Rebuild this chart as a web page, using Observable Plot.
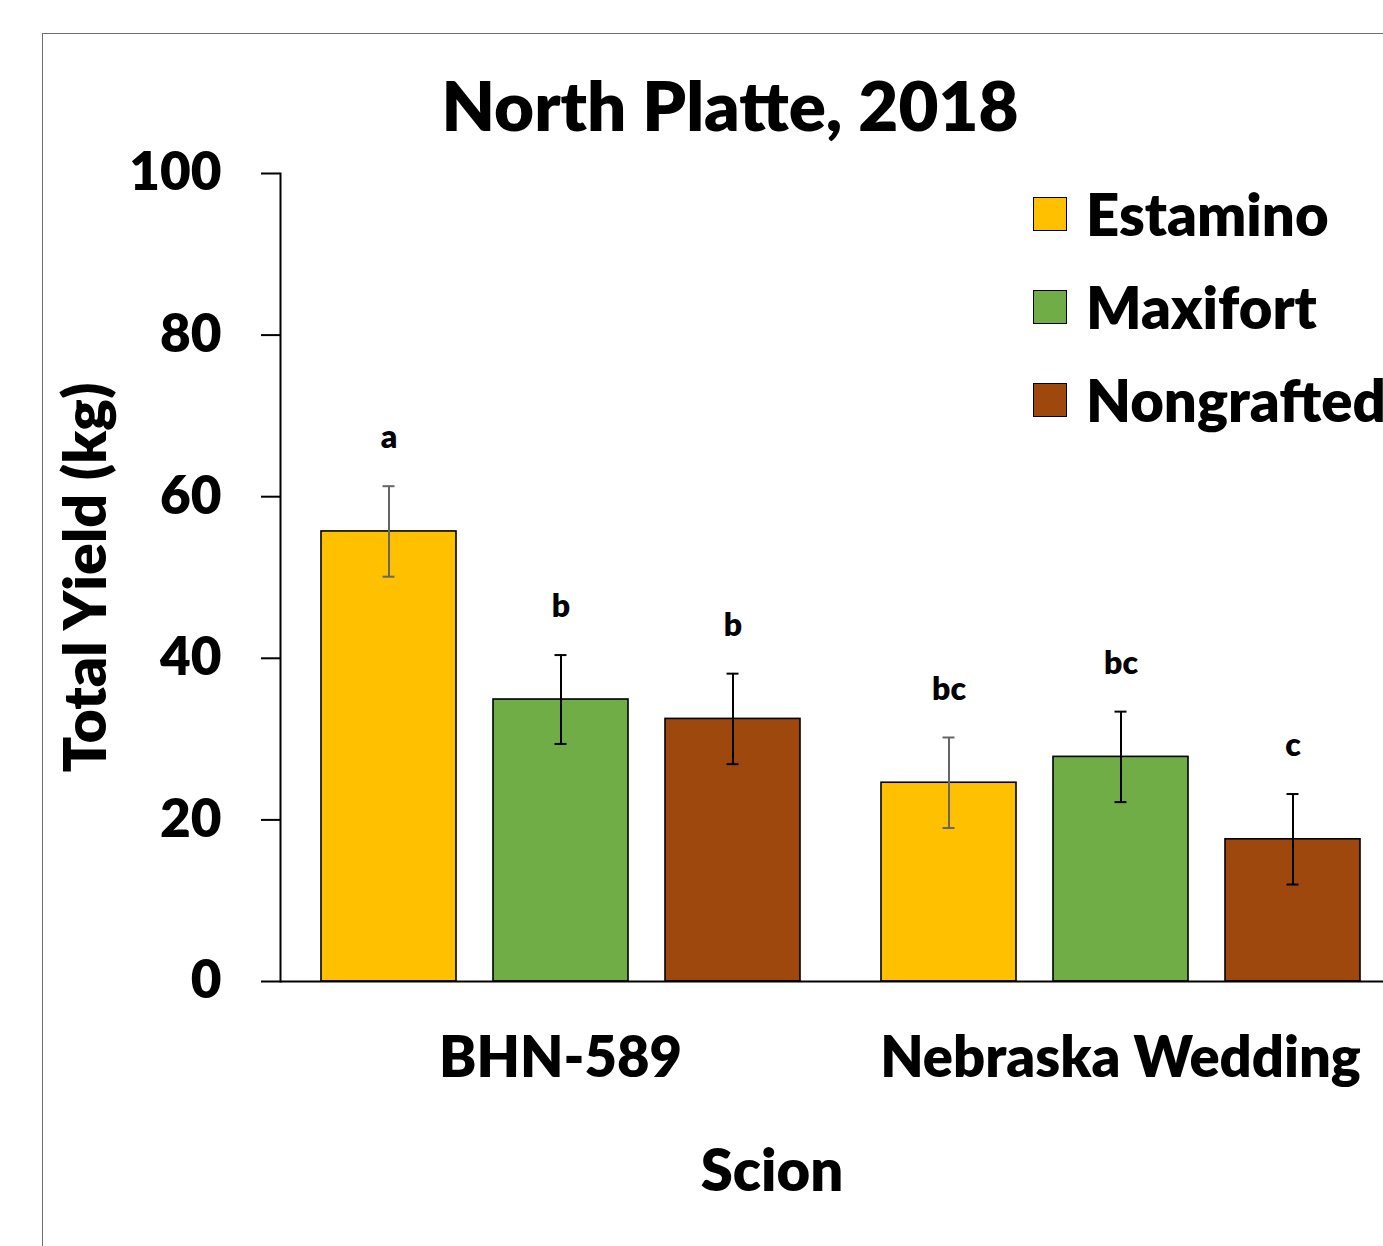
<!DOCTYPE html>
<html>
<head>
<meta charset="utf-8">
<script src="https://cdn.jsdelivr.net/npm/d3@7"></script>
<script src="https://cdn.jsdelivr.net/npm/@observablehq/plot@0.6"></script>
<style>
  html, body { margin: 0; padding: 0; background: #fff; overflow: hidden; }
  #wrap { position: relative; width: 1383px; height: 1246px; overflow: hidden; font-family: Lato, sans-serif; font-weight: 800; color: #000; }
  #border { position: absolute; left: 42px; top: 33px; width: 2000px; height: 2000px; border-left: 1.5px solid #6e6e6e; border-top: 1.5px solid #6e6e6e; }
  #chart { position: absolute; left: 0; top: 0; width: 1400px; }
  #chart svg { max-width: none !important; }
  #title { position: absolute; left: 230px; width: 1000px; top: 63px; text-align: center; font-size: 69px; line-height: 84px; }
  #xlabel { position: absolute; left: 572px; width: 400px; top: 1134px; text-align: center; font-size: 58px; line-height: 70px; }
  .leg { position: absolute; left: 1033px; height: 40px; display: flex; align-items: center; }
  .sw { width: 32px; height: 32px; border: 1.5px solid #000; margin-right: 19px; flex: none; }
  .lt { font-size: 58px; line-height: 40px; white-space: nowrap; }
</style>
</head>
<body>
<div id="wrap">
  <div id="border"></div>
  <div id="chart"></div>
  <div id="title"></div>
  <div id="legend"></div>
  <div id="xlabel"></div>
</div>
<script>
const titleText = "North Platte, 2018";
const xLabel = "Scion";
const yLabel = "Total Yield (kg)";
const scions = ["BHN-589", "Nebraska Wedding"];
const rootstocks = ["Estamino", "Maxifort", "Nongrafted"];
const colors = ["#FFC000", "#70AD47", "#9E480E"];
const yieldBHN = [55.7, 34.9, 32.5];
const yieldNW = [24.6, 27.8, 17.6];
const seBHN = [5.6, 5.5, 5.6];
const seNW = [5.6, 5.6, 5.6];
const lettersBHN = ["a", "b", "b"];
const lettersNW = ["bc", "bc", "c"];
const yTicks = [0, 20, 40, 60, 80, 100];

const series = [
  {scion: scions[0], values: yieldBHN, se: seBHN, letters: lettersBHN},
  {scion: scions[1], values: yieldNW, se: seNW, letters: lettersNW}
];
const data = series.flatMap(s => rootstocks.map((r, i) => ({
  scion: s.scion, rootstock: r, value: s.values[i], se: s.se[i], letter: s.letters[i]
})));
const hi = d => d.value + d.se;
const lo = d => d.value - d.se;
const isEst = d => d.rootstock === "Estamino";
const notEst = d => d.rootstock !== "Estamino";

document.getElementById("title").textContent = titleText;
document.getElementById("xlabel").textContent = xLabel;

const legend = document.getElementById("legend");
const legendTops = [194, 287, 380];
rootstocks.forEach((r, i) => {
  const item = document.createElement("div");
  item.className = "leg";
  item.style.top = legendTops[i] + "px";
  const sw = document.createElement("div");
  sw.className = "sw";
  sw.style.background = colors[i];
  const t = document.createElement("div");
  t.className = "lt";
  t.textContent = r;
  item.append(sw, t);
  legend.append(item);
});

const chart = Plot.plot({
  width: 1400,
  height: 1246,
  marginLeft: 279,
  marginRight: 0,
  marginTop: 173,
  marginBottom: 265,
  style: {fontFamily: "Lato, sans-serif", fontWeight: "800", color: "#000", background: "transparent", overflow: "visible", maxWidth: "none"},
  fx: {domain: scions, padding: 0, label: null},
  x: {domain: rootstocks, paddingInner: 0.217, paddingOuter: 0.2315, axis: null},
  y: {domain: [0, 100], label: yLabel},
  color: {domain: rootstocks, range: colors},
  marks: [
    Plot.barY(data, {fx: "scion", x: "rootstock", y: "value", fill: "rootstock", stroke: "#000", strokeWidth: 1.6}),
    Plot.ruleX(data, {filter: isEst, fx: "scion", x: "rootstock", y1: lo, y2: hi, stroke: "#666", strokeWidth: 2}),
    Plot.tickY(data, {filter: isEst, fx: "scion", x: "rootstock", y: hi, stroke: "#666", strokeWidth: 2, insetLeft: 61.5, insetRight: 61.5}),
    Plot.tickY(data, {filter: isEst, fx: "scion", x: "rootstock", y: lo, stroke: "#666", strokeWidth: 2, insetLeft: 61.5, insetRight: 61.5}),
    Plot.ruleX(data, {filter: notEst, fx: "scion", x: "rootstock", y1: lo, y2: hi, stroke: "#000", strokeWidth: 2}),
    Plot.tickY(data, {filter: notEst, fx: "scion", x: "rootstock", y: hi, stroke: "#000", strokeWidth: 2, insetLeft: 61.5, insetRight: 61.5}),
    Plot.tickY(data, {filter: notEst, fx: "scion", x: "rootstock", y: lo, stroke: "#000", strokeWidth: 2, insetLeft: 61.5, insetRight: 61.5}),
    Plot.text(data, {fx: "scion", x: "rootstock", y: hi, text: "letter", dy: -48, fontSize: 32, fontWeight: "800", fill: "#000"}),
    Plot.ruleY([0], {stroke: "#000", strokeWidth: 2}),
    Plot.frame({anchor: "left", facetAnchor: "left", stroke: "#000", strokeWidth: 2}),
    Plot.axisY({ticks: yTicks, tickSize: 19, tickPadding: 40, fontSize: 53, fontWeight: "800", stroke: "#000", strokeWidth: 2, fill: "#000", label: null}),
    Plot.axisY({ticks: [], tickSize: 0, fontSize: 59, fontWeight: "800", fill: "#000",
      label: yLabel, labelAnchor: "center", labelOffset: 216, labelArrow: "none"}),
    Plot.axisFx({anchor: "bottom", tickSize: 0, tickPadding: 56, fontSize: 56, fontWeight: "800", fill: "#000", label: null})
  ]
});
document.getElementById("chart").append(chart);
</script>
</body>
</html>
